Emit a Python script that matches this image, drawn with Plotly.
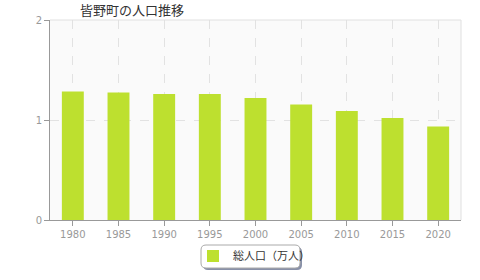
import plotly.graph_objects as go

years = ["1980", "1985", "1990", "1995", "2000", "2005", "2010", "2015", "2020"]
population = [1.285, 1.275, 1.26, 1.26, 1.22, 1.155, 1.09, 1.02, 0.935]
title_text = "皆野町の人口推移"
series_name = "総人口（万人）"

fig = go.Figure()
fig.add_trace(go.Bar(
    x=years, y=population, name=series_name,
    marker=dict(color="#bde02f", line=dict(width=0)),
    width=0.48,
))

W, H = 480, 280
ml, mr, mt, mb = 50, 19, 20, 60
pw, ph = W - ml - mr, H - mt - mb

def px_to_paper(x, y):
    return (x - ml) / pw, (H - mb - y) / ph

def rounded_path(x0, y0, x1, y1, r):
    X0, Y0 = px_to_paper(x0, y0)
    X1, Y1 = px_to_paper(x1, y1)
    rx, ry = r / pw, r / ph
    return (f"M {X0+rx},{Y0} L {X1-rx},{Y0} Q {X1},{Y0} {X1},{Y0-ry} "
            f"L {X1},{Y1+ry} Q {X1},{Y1} {X1-rx},{Y1} L {X0+rx},{Y1} "
            f"Q {X0},{Y1} {X0},{Y1+ry} L {X0},{Y0-ry} Q {X0},{Y0} {X0+rx},{Y0} Z")

shapes = [
    dict(type="path", xref="paper", yref="paper", path=rounded_path(203, 247, 302, 270, 5),
         fillcolor="#8890a8", line=dict(width=0), layer="below"),
    dict(type="path", xref="paper", yref="paper", path=rounded_path(201, 245, 300, 268, 5),
         fillcolor="white", line=dict(color="#aaaaaa", width=1), layer="below"),
    dict(type="line", xref="paper", yref="paper", x0=0, x1=1, y0=1, y1=1,
         line=dict(color="#e0e0e0", width=1)),
    dict(type="line", xref="paper", yref="paper", x0=1, x1=1, y0=0, y1=1,
         line=dict(color="#e0e0e0", width=1)),
]

fig.update_layout(
    width=W, height=H,
    margin=dict(l=ml, r=mr, t=mt, b=mb, autoexpand=False),
    paper_bgcolor="white",
    plot_bgcolor="#fafafa",
    font=dict(family="Noto Sans CJK JP, DejaVu Sans, sans-serif", color="#999999", size=10),
    title=dict(text=title_text, x=80 / W, xanchor="left", y=1 - 10 / H, yanchor="middle",
               font=dict(size=13, color="#333333")),
    showlegend=True,
    legend=dict(orientation="h", x=193 / W, xref="container", xanchor="left",
                y=1 - 256 / H, yref="container", yanchor="middle",
                bgcolor="rgba(0,0,0,0)", borderwidth=0, itemwidth=30,
                font=dict(size=11, color="#333333")),
    shapes=shapes,
)
fig.update_xaxes(
    showgrid=True, gridcolor="#e2e2e2", griddash="dash", gridwidth=1,
    showline=True, linecolor="#999999", linewidth=1,
    ticks="outside", ticklen=5, tickcolor="#999999",
    tickfont=dict(size=10, color="#999999", family="DejaVu Sans, sans-serif"),
)
fig.update_yaxes(
    range=[0, 2], tickvals=[0, 1, 2], ticktext=["0", "1", "2"],
    showgrid=True, gridcolor="#e2e2e2", griddash="dash", gridwidth=1,
    showline=True, linecolor="#999999", linewidth=1,
    ticks="outside", ticklen=5, tickcolor="#999999",
    tickfont=dict(size=10, color="#999999", family="DejaVu Sans, sans-serif"),
    zeroline=False,
)

fig.write_html("out.html")
